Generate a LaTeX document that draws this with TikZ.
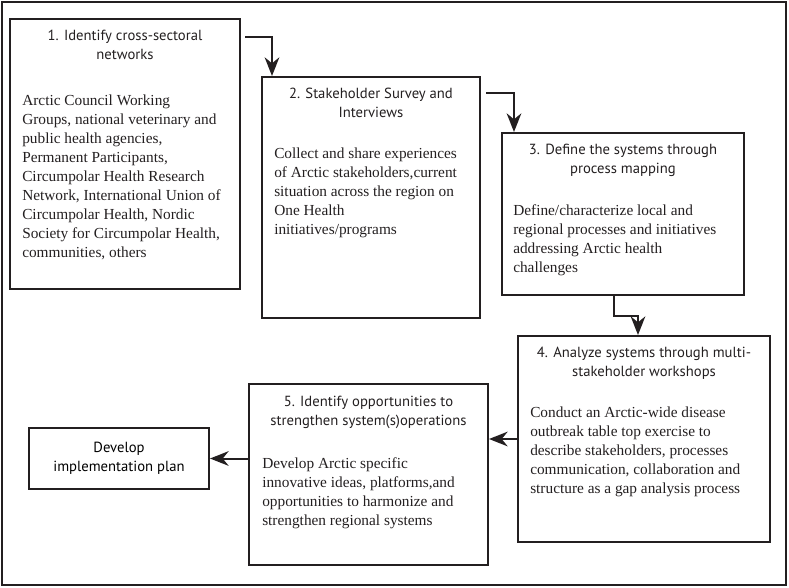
\documentclass[tikz,border=0pt]{standalone}
\usepackage{fontspec}
\setmainfont{Liberation Serif}
\newfontfamily\titlefont{PT Sans}
\usetikzlibrary{arrows.meta,positioning}
\definecolor{inkline}{HTML}{231F20}

\tikzset{
  stepbox/.style={draw=inkline, line width=1.5pt, anchor=north west, inner sep=0pt},
  steptitle/.style={anchor=north, align=center, inner sep=0pt, text=inkline,
    font={\titlefont\fontsize{11}{14.25}\selectfont}},
  stepbody/.style={anchor=north west, align=left, inner sep=0pt, text=inkline,
    font={\fontsize{11.5}{14.25}\selectfont}},
  flow/.style={draw=inkline, line width=1.5pt,
    -{Stealth[length=14pt,width=11pt,inset=4.5pt]}}
}

\begin{document}
\begin{tikzpicture}[x=0.75pt, y=-0.75pt]
        \def\u{0.75pt}
        \useasboundingbox (0,0) rectangle (789,587);

        % cornice esterna
        \draw[inkline, line width=1.5pt] (2,2) rectangle (786,585);

        % i riquadri dei passi
        \node[stepbox, minimum width=230*\u, minimum height=270*\u] (s1) at (9,18) {};
        \node[stepbox, minimum width=218*\u, minimum height=241*\u] (s2) at (261,76) {};
        \node[stepbox, minimum width=242*\u, minimum height=162*\u] (s3) at (501,132) {};
        \node[stepbox, minimum width=252*\u, minimum height=206*\u] (s4) at (517,335) {};
        \node[stepbox, minimum width=239*\u, minimum height=181*\u] (s5) at (248,383) {};
        \node[stepbox, minimum width=180*\u, minimum height=61*\u, align=center,
              font={\titlefont\fontsize{11}{14.25}\selectfont}] (plan) at (28,427)
              {Develop\\implementation plan};

        % titoli
        \node[steptitle] (s1t) at ([shift={(0,12)}]s1.north) {1. Identify cross-sectoral\\networks};
        \node[steptitle] (s2t) at ([shift={(0,12)}]s2.north) {2. Stakeholder Survey and\\Interviews};
        \node[steptitle] (s3t) at ([shift={(0,12)}]s3.north) {3. Define the systems through\\process mapping};
        \node[steptitle] (s4t) at ([shift={(0,12)}]s4.north) {4. Analyze systems through multi-\\stakeholder workshops};
        \node[steptitle] (s5t) at ([shift={(0,13)}]s5.north) {5. Identify opportunities to\\strengthen system(s)operations};

        % testi
        \node[stepbody] (s1b) at ([shift={(13,77)}]s1.north west)
            {Arctic Council Working\\Groups, national veterinary and\\public health agencies,\\Permanent Participants,\\Circumpolar Health Research\\Network, International Union of\\Circumpolar Health, Nordic\\Society for Circumpolar Health,\\communities, others};
        \node[stepbody] (s2b) at ([shift={(13,72)}]s2.north west)
            {Collect and share experiences\\of Arctic stakeholders,current\\situation across the region on\\One Health\\initiatives/programs};
        \node[stepbody] (s3b) at ([shift={(12,72)}]s3.north west)
            {Define/characterize local and\\regional processes and initiatives\\addressing Arctic health\\challenges};
        \node[stepbody] (s4b) at ([shift={(13,72)}]s4.north west)
            {Conduct an Arctic-wide disease\\outbreak table top exercise to\\describe stakeholders, processes\\communication, collaboration and\\structure as a gap analysis process};
        \node[stepbody] (s5b) at ([shift={(14,74)}]s5.north west)
            {Develop Arctic specific\\innovative ideas, platforms,and\\opportunities to harmonize and\\strengthen regional systems};

        % frecce
        \draw[flow] ([shift={(4,19)}]s1.north east) -| ([shift={(11,0)}]s2.north west);
        \draw[flow] ([shift={(5,17)}]s2.north east) -| ([shift={(13,0)}]s3.north west);
        \draw[flow] ([shift={(-9,0)}]s3.south) -- ++(0,20) -| ([shift={(-6,0)}]s4.north);
        \draw[flow] (s4.west) -- (s4.west -| s5.east);
        \draw[flow] (s5.west |- plan.east) -- (plan.east);
\end{tikzpicture}
\end{document}
